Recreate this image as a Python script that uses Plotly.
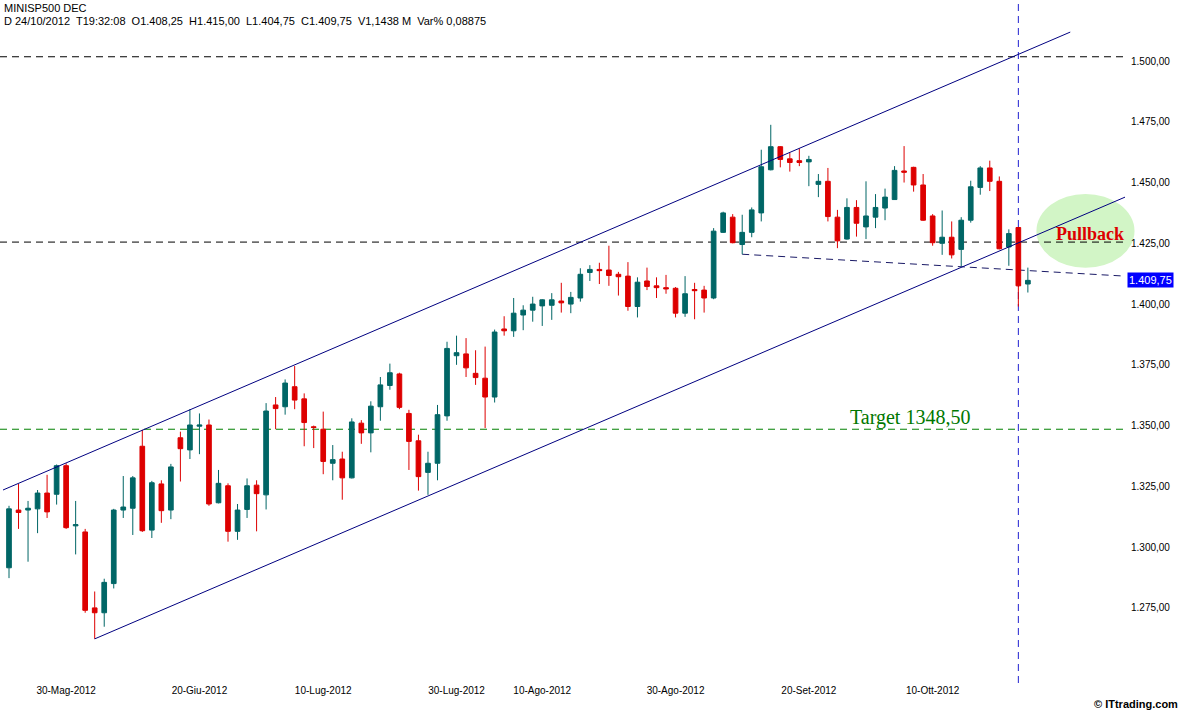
import plotly.graph_objects as go

# ---------------- data ----------------
opens = [1291.5, 1315.25, 1315.25, 1315.75, 1322.25, 1321.75, 1333.5, 1308.75, 1306.25, 1275.0,
         1273.0, 1285.0, 1315.25, 1316.0, 1341.5, 1307.0, 1326.0, 1315.25, 1345.0, 1340.0,
         1349.75, 1350.25, 1318.25, 1325.25, 1306.5, 1315.5, 1325.5, 1321.5, 1358.5, 1357.75,
         1366.0, 1361.0, 1349.5, 1348.5, 1334.5, 1336.25, 1328.5, 1351.0, 1347.0, 1357.75,
         1366.5, 1371.25, 1355.0, 1343.75, 1330.75, 1334.5, 1354.0, 1378.75, 1379.5, 1371.5,
         1369.5, 1361.75, 1389.75, 1389.0, 1395.5, 1397.5, 1399.25, 1399.5, 1401.25, 1400.0,
         1402.5, 1413.0, 1414.25, 1414.0, 1412.25, 1411.5, 1399.0, 1409.5, 1407.5, 1406.75,
         1406.5, 1396.25, 1406.0, 1405.75, 1402.5, 1429.5, 1435.75, 1424.5, 1429.5, 1437.5,
         1455.25, 1464.75, 1459.75, 1459.0, 1458.5, 1449.25, 1450.5, 1435.75, 1426.75, 1439.75,
         1431.75, 1435.75, 1439.5, 1443.0, 1454.75, 1456.25, 1449.0, 1436.25, 1425.0, 1427.5,
         1422.5, 1434.5, 1448.0, 1456.0, 1450.5, 1423.5, 1431.5, 1408.25]
highs = [1317.0, 1326.0, 1319.0, 1323.5, 1329.75, 1334.0, 1334.5, 1319.0, 1307.5, 1281.75,
         1287.0, 1315.75, 1329.25, 1329.25, 1348.25, 1327.25, 1327.5, 1334.25, 1347.5, 1356.75,
         1355.0, 1352.5, 1331.75, 1326.25, 1317.75, 1328.25, 1327.5, 1359.25, 1361.75, 1369.0,
         1374.5, 1363.25, 1350.0, 1355.75, 1342.0, 1339.25, 1353.0, 1352.25, 1360.0, 1370.0,
         1375.5, 1371.75, 1356.5, 1346.25, 1339.25, 1358.5, 1384.5, 1387.0, 1386.0, 1381.0,
         1382.5, 1389.5, 1395.0, 1402.5, 1399.5, 1403.0, 1402.0, 1404.5, 1408.75, 1405.0,
         1414.75, 1416.0, 1417.0, 1424.0, 1413.25, 1417.25, 1411.0, 1415.0, 1411.0, 1412.0,
         1407.0, 1411.5, 1408.75, 1407.5, 1431.25, 1438.0, 1437.0, 1436.75, 1439.75, 1463.5,
         1473.75, 1465.0, 1462.25, 1464.0, 1461.0, 1453.5, 1456.0, 1438.75, 1443.5, 1442.75,
         1450.5, 1445.25, 1447.5, 1456.75, 1465.0, 1456.5, 1453.5, 1437.0, 1438.5, 1434.0,
         1435.75, 1450.75, 1456.75, 1459.0, 1452.5, 1430.75, 1431.75, 1415.0]
lows = [1287.25, 1307.5, 1294.0, 1305.75, 1312.0, 1317.5, 1307.5, 1297.0, 1273.0, 1262.25,
        1267.25, 1283.0, 1312.0, 1305.0, 1306.25, 1303.75, 1310.0, 1311.5, 1327.0, 1336.25,
        1338.25, 1317.0, 1318.0, 1302.25, 1303.0, 1312.0, 1306.5, 1315.5, 1348.5, 1354.5,
        1356.75, 1341.5, 1340.75, 1330.0, 1327.5, 1319.5, 1328.25, 1342.5, 1339.0, 1352.0,
        1364.75, 1356.75, 1331.75, 1323.25, 1321.5, 1327.5, 1352.0, 1375.0, 1370.0, 1366.75,
        1349.0, 1359.5, 1387.0, 1386.5, 1389.25, 1392.75, 1391.0, 1393.5, 1396.5, 1396.25,
        1401.0, 1409.5, 1408.25, 1407.5, 1403.5, 1397.25, 1394.5, 1405.75, 1402.5, 1404.25,
        1394.5, 1394.75, 1393.75, 1396.5, 1402.0, 1429.25, 1425.0, 1420.5, 1427.5, 1434.0,
        1455.0, 1456.25, 1454.5, 1456.75, 1448.5, 1444.0, 1434.0, 1423.0, 1426.5, 1427.75,
        1426.75, 1431.25, 1434.5, 1443.0, 1450.0, 1446.25, 1434.25, 1424.0, 1420.25, 1418.75,
        1415.5, 1433.5, 1445.0, 1446.5, 1422.5, 1415.75, 1399.0, 1404.75]
closes = [1315.75, 1314.25, 1316.0, 1322.25, 1314.5, 1333.5, 1308.0, 1309.25, 1274.0, 1273.0,
          1285.5, 1315.25, 1316.5, 1328.5, 1306.75, 1326.5, 1315.0, 1333.0, 1340.5, 1350.25,
          1350.25, 1317.75, 1326.25, 1306.5, 1315.25, 1325.25, 1322.0, 1356.0, 1357.0, 1367.5,
          1360.5, 1351.25, 1349.25, 1335.25, 1336.0, 1328.5, 1351.5, 1347.0, 1358.0, 1366.75,
          1371.75, 1357.5, 1343.5, 1329.0, 1334.5, 1354.5, 1381.75, 1380.0, 1373.75, 1369.75,
          1361.75, 1388.5, 1389.0, 1396.25, 1397.5, 1400.0, 1401.75, 1401.75, 1400.5, 1402.75,
          1412.25, 1414.25, 1413.75, 1411.75, 1411.25, 1399.0, 1409.0, 1407.25, 1406.75, 1406.25,
          1396.25, 1404.25, 1405.5, 1402.5, 1430.0, 1437.5, 1425.25, 1429.5, 1438.75, 1456.5,
          1464.75, 1459.5, 1458.25, 1458.25, 1459.5, 1450.5, 1436.0, 1426.0, 1439.75, 1433.25,
          1436.25, 1439.75, 1444.0, 1455.0, 1454.25, 1449.0, 1434.5, 1425.25, 1427.5, 1420.25,
          1434.5, 1448.25, 1456.0, 1450.5, 1422.75, 1429.0, 1407.5, 1409.75]

bar_index = list(range(len(opens)))

x_tick_pos = [6, 20, 33, 47, 56, 70, 84, 97]
x_tick_labels = ["30-Mag-2012", "20-Giu-2012", "10-Lug-2012", "30-Lug-2012",
                 "10-Ago-2012", "30-Ago-2012", "20-Set-2012", "10-Ott-2012"]
y_ticks = [1275, 1300, 1325, 1350, 1375, 1400, 1425, 1450, 1475, 1500]

# drawn analysis objects (data coordinates: bar index, price)
upper_channel_x = [-0.63, 111.45]
upper_channel_y = [1323.5, 1511.9]
lower_channel_x = [9, 117.5]
lower_channel_y = [1262.25, 1444.5]
level_top = 1501.75
level_mid = 1425.5
target_level = 1348.5
support_x = [77, 117.2]
support_y = [1420.5, 1411.5]
marker_bar = 106
ellipse_x = [107.9, 118.2]
ellipse_y = [1414.9, 1445.3]
pullback_pos = (113.5, 1429.0)
target_pos = (94.6, 1353.3)
last_price = 1409.75

header1 = "MINISP500 DEC"
header2 = ("D 24/10/2012  T19:32:08  O1.408,25  H1.415,00  L1.404,75  "
           "C1.409,75  V1,1438 M  Var% 0,08875")

X_RANGE = [-0.945, 117.2]
Y_RANGE = [1244.1, 1525.1]

TEAL = "#006666"
RED = "#dd0000"


def xpaper(v):
    return (v - X_RANGE[0]) / (X_RANGE[1] - X_RANGE[0])


def ypaper(v):
    return (v - Y_RANGE[0]) / (Y_RANGE[1] - Y_RANGE[0])


fig = go.Figure()
fig.add_trace(go.Candlestick(
    x=bar_index, open=opens, high=highs, low=lows, close=closes,
    increasing=dict(line=dict(color=TEAL, width=1), fillcolor=TEAL),
    decreasing=dict(line=dict(color=RED, width=1), fillcolor=RED),
    whiskerwidth=0, showlegend=False, hoverinfo="x+y"))

# ellipse (below everything, paper-referenced so it is not clipped at the axis edge)
fig.add_shape(type="circle", xref="paper", yref="paper",
              x0=xpaper(ellipse_x[0]), x1=xpaper(ellipse_x[1]),
              y0=ypaper(ellipse_y[0]), y1=ypaper(ellipse_y[1]),
              fillcolor="#d2f5c6", line=dict(width=0), layer="below")

dash = "7px,5px"
for lvl, col in [(level_top, "#000000"), (level_mid, "#000000"), (target_level, "#008000")]:
    fig.add_shape(type="line", xref="x", yref="y", x0=X_RANGE[0], x1=X_RANGE[1],
                  y0=lvl, y1=lvl, line=dict(color=col, width=1, dash=dash), layer="below")

fig.add_shape(type="line", xref="x", yref="y", x0=support_x[0], x1=support_x[1],
              y0=support_y[0], y1=support_y[1],
              line=dict(color="#1a1a66", width=1, dash=dash), layer="below")

fig.add_shape(type="line", xref="x", yref="y", x0=marker_bar, x1=marker_bar,
              y0=Y_RANGE[0], y1=Y_RANGE[1],
              line=dict(color="#2020d0", width=1, dash=dash), layer="below")

for xs, ys in [(upper_channel_x, upper_channel_y), (lower_channel_x, lower_channel_y)]:
    fig.add_shape(type="line", xref="x", yref="y", x0=xs[0], x1=xs[1], y0=ys[0], y1=ys[1],
                  line=dict(color="#000080", width=1), layer="above")

annotations = [
    dict(x=0.002, y=1 - 8 / 683, xref="paper", yref="paper", text=header1, showarrow=False,
         xanchor="left", yanchor="middle", font=dict(family="Liberation Sans", size=11, color="#000")),
    dict(x=0.002, y=1 - 21 / 683, xref="paper", yref="paper", text=header2, showarrow=False,
         xanchor="left", yanchor="middle", font=dict(family="Liberation Sans", size=11, color="#000")),
    dict(x=pullback_pos[0], y=pullback_pos[1], xref="x", yref="y", text="<b>Pullback</b>",
         showarrow=False, font=dict(family="Liberation Serif", size=18, color="#dd0000")),
    dict(x=target_pos[0], y=target_pos[1], xref="x", yref="y", text="Target 1348,50",
         showarrow=False, font=dict(family="Liberation Serif", size=20, color="#007700")),
    dict(x=1, y=last_price, xref="paper", yref="y", text="1.409,75", showarrow=False,
         xanchor="left", yanchor="middle", xshift=2, bgcolor="#0000ff", borderpad=1,
         font=dict(family="Liberation Sans", size=11, color="#ffffff")),
    dict(x=1180 / 1125, y=-(704 - 683) / 683, xref="paper", yref="paper",
         text="<b>© ITtrading.com</b>", showarrow=False, xanchor="right", yanchor="middle",
         font=dict(family="Liberation Sans", size=11, color="#000")),
]

fig.update_layout(
    width=1184, height=711,
    margin=dict(l=0, r=59, t=0, b=28),
    paper_bgcolor="white", plot_bgcolor="white",
    separators=",.",
    showlegend=False,
    annotations=annotations,
    xaxis=dict(range=X_RANGE, tickvals=x_tick_pos, ticktext=x_tick_labels,
               showgrid=False, zeroline=False, showline=False, ticks="",
               rangeslider=dict(visible=False),
               tickfont=dict(family="Liberation Sans", size=10, color="#000")),
    yaxis=dict(range=Y_RANGE, side="right", tickvals=y_ticks, tickformat=",.2f",
               showgrid=False, zeroline=False, showline=False, ticks="",
               ticklabelstandoff=5,
               tickfont=dict(family="Liberation Sans", size=10, color="#000")),
)

fig.write_html("out.html")
